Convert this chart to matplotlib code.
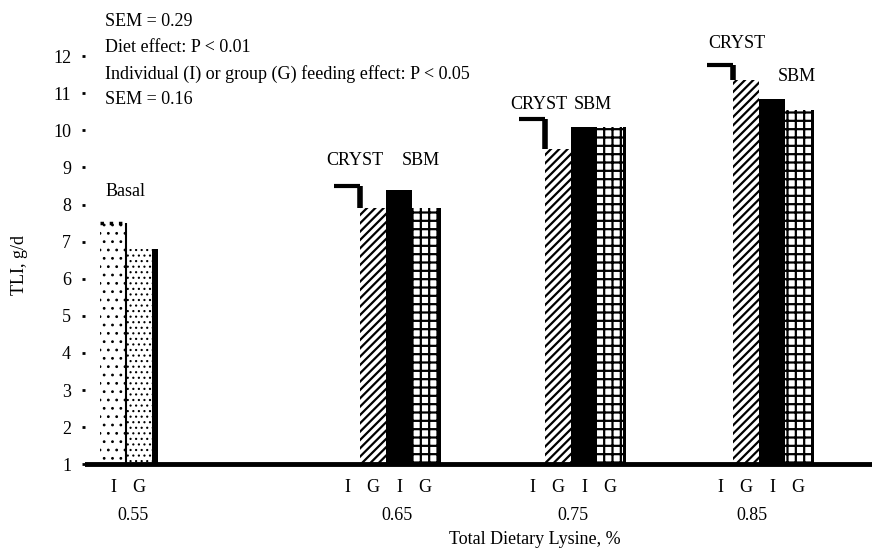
import numpy as np
import matplotlib.pyplot as plt

plt.rcParams['font.family'] = ['Liberation Serif', 'DejaVu Serif']
plt.rcParams['hatch.linewidth'] = 1.6

# values (TLI, g/d)
lysine = ['0.55', '0.65', '0.75', '0.85']
basal_I = 7.5
basal_G = 6.8
cryst_I = [8.5, 10.3, 11.75]
cryst_G = [7.9, 9.5, 11.35]
sbm_I = [8.4, 10.1, 10.85]
sbm_G = [7.9, 10.1, 10.55]
yticks = list(range(1, 13))

# layout (x in pixel-like units)
left_edges = [100, 334, 519, 707]
w = 26
fs = 13

fig = plt.figure(figsize=(8.72, 5.56), dpi=100)
ax = fig.add_axes([85/872, 88/556, 787/872, 449/556])
ax.set_xlim(85, 872)
ax.set_ylim(0.9, 13.0)

# basal group
x0 = left_edges[0]
b1 = ax.bar(x0 + w/2, basal_I - 1, w, bottom=1, color='white', hatch='..', edgecolor='black', linewidth=0)
ax.bar(x0 + 1.5*w + 6, basal_G - 1, w, bottom=1, color='black', zorder=1)
b2 = ax.bar(x0 + 1.5*w, basal_G - 1, w, bottom=1, color='white', hatch='...', edgecolor='black', linewidth=0, zorder=2)
for p in list(b1) + list(b2):
    if hasattr(p, 'set_hatch_linewidth'):
        p.set_hatch_linewidth(0.8)
ax.vlines(x0 + w, 1, basal_I, color='black', lw=1.5, zorder=3)
ax.hlines(basal_I, x0, x0 + w, color='black', lw=2.5, linestyles=':', zorder=3)

xt = [x0 + w/2, x0 + 1.5*w]
xl = ['I', 'G']
for i in range(3):
    s = left_edges[i + 1]
    c = [s + w/2 + k*w for k in range(4)]
    # CRYST I: open bar, only its top and right edge show
    ax.bar(c[0], cryst_I[i] - 1, w, bottom=1, color='white', linewidth=0)
    ax.hlines(cryst_I[i], s, s + w, color='black', lw=3, zorder=3)
    ax.vlines(s + w, cryst_G[i], cryst_I[i], color='black', lw=4, zorder=3)
    ax.bar(c[1], cryst_G[i] - 1, w, bottom=1, color='white', hatch='////', edgecolor='black', linewidth=0)
    ax.bar(c[2], sbm_I[i] - 1, w, bottom=1, color='black')
    ax.bar(c[3] + 3, sbm_G[i] - 1, w, bottom=1, color='black', zorder=1)
    ax.bar(c[3], sbm_G[i] - 1, w, bottom=1, color='white', hatch='++', edgecolor='black', linewidth=0, zorder=2)
    xt += c
    xl += ['I', 'G', 'I', 'G']

ax.axhline(1, color='black', lw=3.5, zorder=4)

for sp in ax.spines.values():
    sp.set_visible(False)
ax.set_yticks(yticks)
ax.tick_params(axis='y', length=2, width=2, pad=8, labelsize=fs)
ax.set_xticks(xt)
ax.set_xticklabels(xl)
ax.tick_params(axis='x', length=0, pad=8, labelsize=fs)

# group labels under the I/G letters
group_x = [133, 397, 573, 752]
for gx, lab in zip(group_x, lysine):
    ax.text(gx, 0.9, lab, ha='center', va='top', fontsize=fs,
            transform=ax.transData, clip_on=False).set_y(-0.15)

ax.text(106, 8.35, 'Basal', fontsize=fs, va='center')
ax.text(355, 9.2, 'CRYST', fontsize=fs, ha='center', va='center')
ax.text(421, 9.2, 'SBM', fontsize=fs, ha='center', va='center')
ax.text(539, 10.7, 'CRYST', fontsize=fs, ha='center', va='center')
ax.text(593, 10.7, 'SBM', fontsize=fs, ha='center', va='center')
ax.text(737, 12.35, 'CRYST', fontsize=fs, ha='center', va='center')
ax.text(797, 11.45, 'SBM', fontsize=fs, ha='center', va='center')

notes = ['SEM = 0.29', 'Diet effect: P < 0.01',
         'Individual (I) or group (G) feeding effect: P < 0.05', 'SEM = 0.16']
for k, t in enumerate(notes):
    fig.text(105/872, 1 - (22 + 26*k)/556, t, fontsize=fs, va='center')

fig.text(20/872, 1 - 265/556, 'TLI, g/d', rotation=90, fontsize=fs, ha='center', va='center')
fig.text(535/872, 1 - 540/556, 'Total Dietary Lysine, %', fontsize=fs, ha='center', va='center')

fig.savefig('out.png', dpi=100)
